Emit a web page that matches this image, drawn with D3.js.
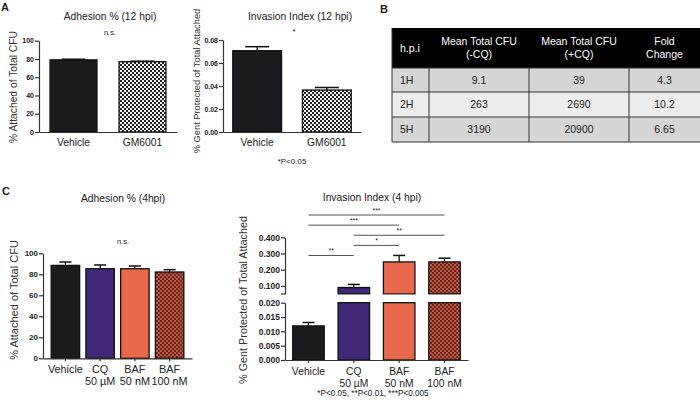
<!DOCTYPE html>
<html>
<head>
<meta charset="utf-8">
<script src="https://cdn.jsdelivr.net/npm/d3@7"></script>
<style>
  body { margin: 0; background: #fff; }
  svg { font-family: "Liberation Sans", Arial, sans-serif; }
</style>
</head>
<body>
<div id="chart"></div>
<script>
// ---- panel A data
var catsA = ["Vehicle", "GM6001"];
var adhesion12 = [79, 77];
var adhesion12Err = [0.7, 0.6];
var invasion12 = [0.0707, 0.0365];
var invasion12Err = [0.0035, 0.0022];
var ticksAdh = [0, 20, 40, 60, 80, 100];
var ticksInv12 = [0, 0.02, 0.04, 0.06, 0.08];

// ---- panel B data
var tableHead = [["h.p.i"], ["Mean Total CFU", "(-CQ)"], ["Mean Total CFU", "(+CQ)"], ["Fold", "Change"]];
var hpi = ["1H", "2H", "5H"];
var cfuMinus = ["9.1", "263", "3190"];
var cfuPlus = ["39", "2690", "20900"];
var foldChange = ["4.3", "10.2", "6.65"];

// ---- panel C data
var catsC = [["Vehicle"], ["CQ", "50 \u00b5M"], ["BAF", "50 nM"], ["BAF", "100 nM"]];
var adhesion4 = [88.5, 85.3, 85.3, 82.2];
var adhesion4Err = [3.2, 3.6, 2.6, 2.2];
var invasion4 = [0.0119, 0.090, 0.248, 0.248];
var invasion4Err = [0.0012, 0.019, 0.040, 0.023];
var sigPairs = [[0, 3, "***"], [0, 2, "***"], [1, 3, "**"], [1, 2, "*"], [0, 1, "**"]];
var ticksInvLow = [0, 0.005, 0.010, 0.015, 0.020];
var ticksInvHigh = [0.1, 0.2, 0.3, 0.4];

var colorsC = ["#1b1b1d", "#3f2876", "#e8684c", "url(#checkRed)"];

var svg = d3.select("#chart").append("svg")
    .attr("width", 700)
    .attr("height", 406);

// patterns
var defs = svg.append("defs");
var pBW = defs.append("pattern").attr("id", "checkBW")
    .attr("patternUnits", "userSpaceOnUse").attr("width", 4).attr("height", 4);
pBW.append("rect").attr("width", 4).attr("height", 4).attr("fill", "#f4f4f4");
pBW.append("rect").attr("width", 2).attr("height", 2).attr("fill", "#222");
pBW.append("rect").attr("x", 2).attr("y", 2).attr("width", 2).attr("height", 2).attr("fill", "#222");

var pR = defs.append("pattern").attr("id", "checkRed")
    .attr("patternUnits", "userSpaceOnUse").attr("width", 4).attr("height", 4);
pR.append("rect").attr("width", 4).attr("height", 4).attr("fill", "#b85846");
pR.append("rect").attr("width", 2).attr("height", 2).attr("fill", "#6e2418");
pR.append("rect").attr("x", 2).attr("y", 2).attr("width", 2).attr("height", 2).attr("fill", "#6e2418");

function yAxis(g, x, scale, ticks, fmt, fs) {
  var a = g.append("g")
      .attr("transform", "translate(" + x + ",0)")
      .call(d3.axisLeft(scale).tickValues(ticks).tickFormat(fmt).tickSize(4).tickSizeOuter(0));
  a.select(".domain").attr("stroke", "#333").attr("stroke-width", 1.2);
  a.selectAll(".tick line").attr("stroke", "#333").attr("stroke-width", 1.2);
  a.selectAll(".tick text")
      .attr("x", -5)
      .style("font-family", "Liberation Sans, Arial, sans-serif")
      .style("font-size", fs + "px")
      .style("font-weight", "bold")
      .attr("fill", "#222");
  return a;
}

function xAxis(g, y, band, tick, labels, fs, lineH, dy) {
  var a = g.append("g")
      .attr("transform", "translate(0," + y + ")")
      .call(d3.axisBottom(band).tickSize(tick).tickSizeOuter(0).tickFormat(""));
  a.select(".domain").attr("stroke", "#333").attr("stroke-width", 1.2);
  a.selectAll(".tick line").attr("stroke", "#333").attr("stroke-width", 1.2);
  var t = g.selectAll(null)
      .data(labels)
      .enter().append("text")
        .attr("text-anchor", "middle")
        .attr("font-size", fs + "px")
        .attr("fill", "#222")
        .attr("transform", function (d, i) { return "translate(" + (band(i) + band.bandwidth() / 2) + "," + (y + dy) + ")"; });
  t.selectAll("tspan")
      .data(function (d) { return [].concat(d); })
      .enter().append("tspan")
        .attr("x", 0)
        .attr("y", function (d, i) { return i * lineH; })
        .text(function (d) { return d; });
}

function yLabel(g, x, yc, txt, fs) {
  g.append("text")
      .attr("transform", "translate(" + x + "," + yc + ") rotate(-90)")
      .attr("text-anchor", "middle")
      .attr("font-size", fs + "px")
      .attr("fill", "#333")
      .text(txt);
}

function label(g, x, y, txt, fs, weight) {
  g.append("text")
      .attr("x", x).attr("y", y)
      .attr("text-anchor", "middle")
      .attr("font-size", fs + "px")
      .attr("font-weight", weight || "normal")
      .attr("fill", "#222")
      .text(txt);
}

function bars(g, band, y, vals, errs, fills, capW) {
  var y0 = y.range()[0];
  g.selectAll(null).data(vals).enter().append("rect")
      .attr("x", function (d, i) { return band(i); })
      .attr("width", band.bandwidth())
      .attr("y", function (d) { return y(d); })
      .attr("height", function (d) { return y0 - y(d); })
      .attr("fill", function (d, i) { return fills[i]; })
      .attr("stroke", "#111")
      .attr("stroke-width", 1.3);
  errorBars(g, band, function (i) { return y(vals[i]); }, function (i) { return y(vals[i] + errs[i]); }, vals.length, capW);
}

function errorBars(g, band, yTop, yErr, n, capW) {
  var idx = d3.range(n);
  g.selectAll(null).data(idx).enter().append("line")
      .attr("x1", function (i) { return band(i) + band.bandwidth() / 2; })
      .attr("x2", function (i) { return band(i) + band.bandwidth() / 2; })
      .attr("y1", function (i) { return yTop(i); })
      .attr("y2", function (i) { return yErr(i); })
      .attr("stroke", "#111").attr("stroke-width", 1.3);
  g.selectAll(null).data(idx).enter().append("line")
      .attr("x1", function (i) { return band(i) + band.bandwidth() / 2 - capW / 2; })
      .attr("x2", function (i) { return band(i) + band.bandwidth() / 2 + capW / 2; })
      .attr("y1", function (i) { return yErr(i); })
      .attr("y2", function (i) { return yErr(i); })
      .attr("stroke", "#111").attr("stroke-width", 1.5);
}

var idx2 = d3.range(2), idx4 = d3.range(4);

// panel letters
label(svg, 5, 11, "A", 11, "bold");
label(svg, 384, 13, "B", 11, "bold");
label(svg, 6, 195, "C", 11, "bold");

// ===== A left: Adhesion 12 hpi
var gA1 = svg.append("g");
var xA1 = d3.scaleBand().domain(idx2).range([39, 177]).paddingInner(0.32).paddingOuter(0.16);
var yA1 = d3.scaleLinear().domain([0, 100]).range([132, 40.7]);
bars(gA1, xA1, yA1, adhesion12, adhesion12Err, ["#1b1b1d", "url(#checkBW)"], 24);
yAxis(gA1, 39, yA1, ticksAdh, d3.format("d"), 7);
xAxis(gA1, 132, xA1, 0, catsA, 10.3, 12, 14);
yLabel(gA1, 17, 87, "% Attached of Total CFU", 10.3);
label(gA1, 110, 20, "Adhesion % (12 hpi)", 10.3);
label(gA1, 110, 35, "n.s.", 7.5);

// ===== A right: Invasion 12 hpi
var gA2 = svg.append("g");
var xA2 = d3.scaleBand().domain(idx2).range([223, 361]).paddingInner(0.3).paddingOuter(0.14);
var yA2 = d3.scaleLinear().domain([0, 0.08]).range([132, 40]);
bars(gA2, xA2, yA2, invasion12, invasion12Err, ["#1b1b1d", "url(#checkBW)"], 24);
yAxis(gA2, 223, yA2, ticksInv12, d3.format(".2f"), 7);
xAxis(gA2, 132, xA2, 0, catsA, 10.3, 12, 14);
yLabel(gA2, 200, 81, "% Gent Protected of Total Attached", 9.3);
label(gA2, 300, 20, "Invasion Index (12 hpi)", 10.3);
label(gA2, 294, 34, "*", 8);
label(gA2, 292, 164, "*P<0.05", 8);

// ===== B table
var gB = svg.append("g");
var colX = [392, 429, 529, 629, 700];
var rowY = [68, 92, 117, 142];
var bodyRows = d3.range(hpi.length).map(function (i) { return [hpi[i], cfuMinus[i], cfuPlus[i], foldChange[i]]; });
var rowFill = ["#d6d6d6", "#ededed", "#d6d6d6"];

gB.append("rect").attr("x", colX[0]).attr("y", 28).attr("width", colX[4] - colX[0]).attr("height", 40).attr("fill", "#000");
gB.selectAll("rect.row").data(bodyRows).enter().append("rect")
    .attr("class", "row")
    .attr("x", colX[0]).attr("y", function (d, i) { return rowY[i]; })
    .attr("width", colX[4] - colX[0])
    .attr("height", function (d, i) { return rowY[i + 1] - rowY[i]; })
    .attr("fill", function (d, i) { return rowFill[i]; });
// grid lines
gB.selectAll("line.h").data(rowY).enter().append("line")
    .attr("class", "h")
    .attr("x1", colX[0]).attr("x2", colX[4])
    .attr("y1", function (d) { return d; }).attr("y2", function (d) { return d; })
    .attr("stroke", "#333").attr("stroke-width", 1);
gB.selectAll("line.v").data(colX.slice(0, 4)).enter().append("line")
    .attr("class", "v")
    .attr("x1", function (d) { return d; }).attr("x2", function (d) { return d; })
    .attr("y1", function (d, i) { return i === 0 ? 28 : 68; }).attr("y2", 142)
    .attr("stroke", "#333").attr("stroke-width", 1);

function cellX(j) { return j === 0 ? colX[0] + 8 : (colX[j] + colX[j + 1]) / 2; }
var head = gB.selectAll("text.head").data(tableHead).enter().append("text")
    .attr("class", "head")
    .attr("text-anchor", function (d, j) { return j === 0 ? "start" : "middle"; })
    .attr("font-size", "10.5px")
    .attr("fill", "#fff")
    .attr("transform", function (d, j) { return "translate(" + cellX(j) + "," + (d.length === 1 ? 52 : 45) + ")"; });
head.selectAll("tspan").data(function (d) { return d; }).enter().append("tspan")
    .attr("x", 0).attr("y", function (d, i) { return i * 13; })
    .text(function (d) { return d; });

bodyRows.forEach(function (r, i) {
  gB.selectAll(null).data(r).enter().append("text")
      .attr("x", function (d, j) { return cellX(j); })
      .attr("y", (rowY[i] + rowY[i + 1]) / 2 + 3.8)
      .attr("text-anchor", function (d, j) { return j === 0 ? "start" : "middle"; })
      .attr("font-size", "10.5px")
      .attr("fill", "#222")
      .text(function (d) { return d; });
});

// ===== C left: Adhesion 4 hpi
var gC1 = svg.append("g");
var xC1 = d3.scaleBand().domain(idx4).range([43, 192]).paddingInner(0.18).paddingOuter(0.235);
var yC1 = d3.scaleLinear().domain([0, 100]).range([358.3, 253.3]);
bars(gC1, xC1, yC1, adhesion4, adhesion4Err, colorsC, 12);
yAxis(gC1, 43, yC1, ticksAdh, d3.format("d"), 8);
xAxis(gC1, 358.3, xC1, 3, catsC, 10.8, 12, 15);
yLabel(gC1, 18, 300, "% Attached of Total CFU", 11);
label(gC1, 123, 202, "Adhesion % (4hpi)", 10.3);
label(gC1, 123, 244, "n.s.", 7.5);

// ===== C right: Invasion 4 hpi (broken axis)
var gC2 = svg.append("g");
var xC2 = d3.scaleBand().domain(idx4).range([285, 468]).paddingInner(0.305).paddingOuter(0.17);
var yLow = d3.scaleLinear().domain([0, 0.02]).range([360, 302.7]);
var yHigh = d3.scaleLinear().domain([0.05, 0.4]).range([294, 237.3]);
function yBroken(v) { return v <= 0.02 ? yLow(v) : yHigh(v); }

gC2.selectAll("rect.low").data(invasion4).enter().append("rect")
    .attr("class", "low")
    .attr("x", function (d, i) { return xC2(i); })
    .attr("width", xC2.bandwidth())
    .attr("y", function (d) { return yLow(Math.min(d, 0.02)); })
    .attr("height", function (d) { return yLow(0) - yLow(Math.min(d, 0.02)); })
    .attr("fill", function (d, i) { return colorsC[i]; })
    .attr("stroke", "#111").attr("stroke-width", 1.3);
var highIdx = idx4.filter(function (i) { return invasion4[i] > 0.02; });
gC2.selectAll("rect.high").data(highIdx).enter().append("rect")
    .attr("class", "high")
    .attr("x", function (i) { return xC2(i); })
    .attr("width", xC2.bandwidth())
    .attr("y", function (i) { return yHigh(invasion4[i]); })
    .attr("height", function (i) { return yHigh(0.05) - yHigh(invasion4[i]); })
    .attr("fill", function (i) { return colorsC[i]; })
    .attr("stroke", "#111").attr("stroke-width", 1.3);
// white break band
gC2.append("rect")
    .attr("x", 280).attr("width", 200)
    .attr("y", yHigh(0.05) + 0.7).attr("height", yLow(0.02) - yHigh(0.05) - 1.4)
    .attr("fill", "#fff");
errorBars(gC2, xC2, function (i) { return yBroken(invasion4[i]); },
    function (i) { return yBroken(invasion4[i] + invasion4Err[i]); }, 4, 12);

yAxis(gC2, 285, yLow, ticksInvLow, d3.format(".3f"), 8.5);
yAxis(gC2, 285, yHigh, ticksInvHigh, d3.format(".3f"), 8.5);
// end tick at the break
gC2.append("line").attr("x1", 281).attr("x2", 285)
    .attr("y1", yHigh(0.05)).attr("y2", yHigh(0.05))
    .attr("stroke", "#333").attr("stroke-width", 1.2);
xAxis(gC2, 360, xC2, 3, catsC, 10.3, 11.5, 15);
yLabel(gC2, 247, 300, "% Gent Protected of Total Attached", 10.8);
label(gC2, 372, 201, "Invasion Index (4 hpi)", 10.3);
label(gC2, 373, 396, "*P<0.05, **P<0.01, ***P<0.005", 8.2);

// significance brackets
var sigY = d3.scaleLinear().domain([0, 4]).range([215, 255.5]);
sigPairs.forEach(function (p, k) {
  var xa = xC2(p[0]) + xC2.bandwidth() / 2,
      xb = xC2(p[1]) + xC2.bandwidth() / 2;
  gC2.append("line")
      .attr("x1", xa).attr("x2", xb)
      .attr("y1", sigY(k)).attr("y2", sigY(k))
      .attr("stroke", "#555").attr("stroke-width", 1);
  label(gC2, (xa + xb) / 2, sigY(k) - 2.5, p[2], 7);
});
</script>
</body>
</html>
